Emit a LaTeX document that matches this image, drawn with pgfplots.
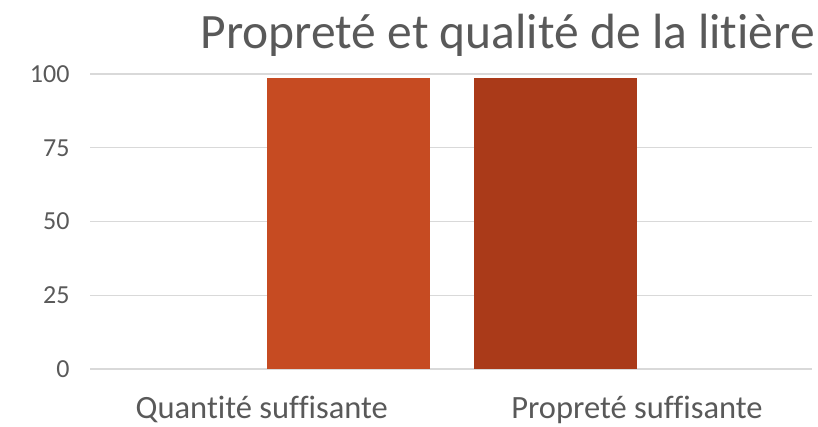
\documentclass[border=0pt]{standalone}
\usepackage{pgfplots}
\pgfplotsset{compat=1.18}
\usepackage{fontspec}
\setmainfont[Ligatures=NoCommon]{Carlito}
\definecolor{barA}{HTML}{C64B22}
\definecolor{barB}{HTML}{AA3A19}
\definecolor{gridc}{HTML}{D9D9D9}
\definecolor{txt}{HTML}{595959}
\begin{document}
\begin{tikzpicture}[x=1bp,y=1bp]
\path[use as bounding box] (0,0) rectangle (818,426);
\begin{axis}[
  at={(90bp,57bp)}, anchor=origin,
  scale only axis, width=722bp, height=295bp,
  xmin=0, xmax=2, ymin=0, ymax=100,
  ytick={0,25,50,75,100},
  xtick={0.476,1.515},
  xticklabels={Quantité suffisante, Propreté suffisante},
  ymajorgrids, grid style={gridc, line width=1.5bp},
  axis line style={draw=none},
  major tick length=0pt,
  tick style={draw=none},
  /pgf/number format/assume math mode=true,
  yticklabel style={font=\fontsize{26bp}{28bp}\selectfont, text=txt, xshift=-17bp},
  xticklabel style={font=\fontsize{32.5bp}{36bp}\selectfont, text=txt, yshift=-24bp},
  clip=false,
]
\addplot[ybar, bar width=0.4515, bar shift=0pt, fill=barA, draw=none] coordinates {(0.716,98.8)};
\addplot[ybar, bar width=0.4515, bar shift=0pt, fill=barB, draw=none] coordinates {(1.289,98.8)};
\end{axis}
\node[anchor=base east, font=\fontsize{49.5bp}{54bp}\selectfont, text=txt, inner sep=0pt] at (815,378) {Propreté et qualité de la litière};
\end{tikzpicture}
\end{document}
